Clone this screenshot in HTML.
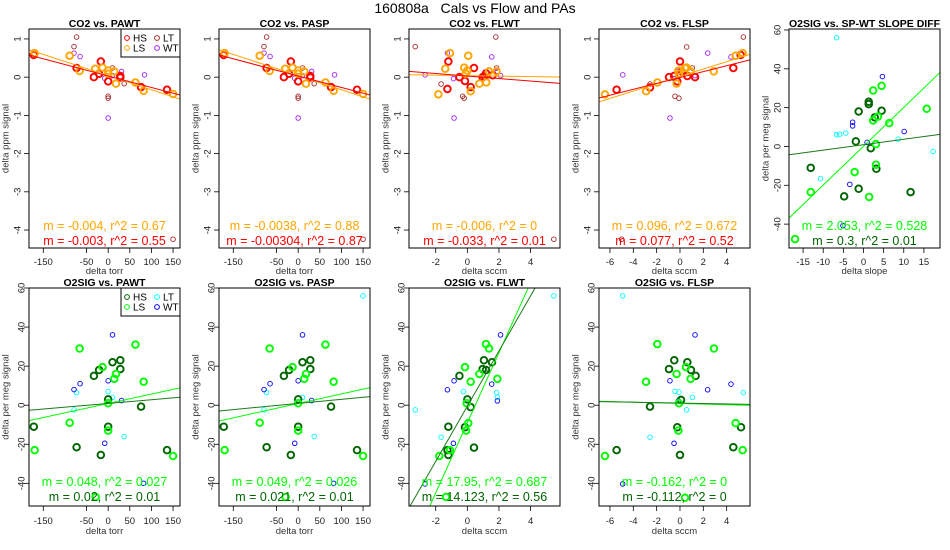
<!DOCTYPE html>
<html><head><meta charset="utf-8"><style>
html,body{margin:0;padding:0;background:#fff;}
svg{display:block;font-family:"Liberation Sans",Arial,sans-serif;}
</style></head><body>
<svg id="chart" width="950" height="550" viewBox="0 0 950 550">
<text x="475" y="13" text-anchor="middle" font-size="14" style="white-space:pre" xml:space="preserve">160808a   Cals vs Flow and PAs</text>
</svg>
<script>
// ---------- data ----------
// Panel 1: CO2 vs PAWT
const c1HSx=[-172,-73,-17,-33,-21,0,28,28,76,136];
const c1HSy=[0.58,0.24,0.41,0,0.09,-0.11,0.03,-0.01,-0.26,-0.33];
const c1LSx=[-170,-89,-66,-30,-13,0,0,14,18,63,82,150];
const c1LSy=[0.63,0.56,0.16,0.22,0.25,0.17,0.09,0.15,-0.17,-0.14,-0.36,-0.44];
const c1LTx=[-73,-79,10,37,0,0,150];
const c1LTy=[1.05,0.8,0.24,-0.17,-0.5,-0.55,-4.24];
const c1WTx=[-79,-65,-8,10,31,84,0];
const c1WTy=[0.63,0.54,-0.03,0.04,0.15,0.06,-1.07];
// Panel 2: CO2 vs PASP
const c2HSx=[-172,-73,-17,-33,-21,0,28,28,76,136];
const c2HSy=[0.58,0.24,0.41,0,0.09,-0.11,0.03,-0.01,-0.26,-0.33];
const c2LSx=[-170,-89,-66,-30,-13,0,0,14,18,63,82,150];
const c2LSy=[0.63,0.56,0.16,0.22,0.25,0.17,0.09,0.15,-0.17,-0.14,-0.36,-0.44];
const c2LTx=[-73,-79,10,37,0,0,150];
const c2LTy=[1.05,0.8,0.24,-0.17,-0.5,-0.55,-4.24];
const c2WTx=[-79,-65,-8,10,31,84,0];
const c2WTy=[0.63,0.54,-0.03,0.04,0.15,0.06,-1.07];
// Panel 3: CO2 vs FLWT
const c3HSx=[-1.2,-1.26,-0.5,-0.15,0.42,0.21,0.97,1.18,1.6,1.1];
const c3HSy=[0.41,-0.31,0,-0.1,0.24,-0.26,0,0.1,0.05,0.02];
const c3LSx=[-1.4,-1.1,-1.83,-0.2,0,-0.1,0.06,0.21,0.76,1.2,1.37,1.85];
const c3LSy=[0.22,0.63,-0.45,0.25,0.17,0.09,0.56,-0.37,-0.17,-0.14,0.15,0.15];
const c3LTx=[-3.3,1.8,-1.66,1.85,-0.3,-0.2,5.47];
const c3LTy=[0.8,1.05,-0.18,0.24,-0.5,-0.55,-4.24];
const c3WTx=[-2.67,-1.26,-0.88,1.54,1.9,2.1,-0.84];
const c3WTy=[0.06,0.63,-0.04,0.53,0.15,0.04,-1.07];
// Panel 4: CO2 vs FLSP
const c4HSx=[-5.43,-2.57,-0.94,-0.5,-0.23,0,0.14,0.63,1.29,4.57,5.2];
const c4HSy=[-0.33,-0.27,0,0.03,-0.11,0.41,0.15,0.03,0,0.24,0.58];
const c4LSx=[-6.43,-2.9,-1.94,-0.29,-0.14,-0.09,0.43,0.57,0.91,2.9,4.77,5.37];
const c4LSy=[-0.45,-0.37,-0.14,-0.17,0.17,0.09,0.24,0.25,0.15,0.15,0.56,0.63];
const c4LTx=[0.57,5.43,-2.57,1.06,-0.43,-0.09,-5];
const c4LTy=[0.79,1.05,-0.18,0.24,-0.5,-0.55,-4.24];
const c4WTx=[-4.9,2.37,4.37,-0.5,-0.23,1.29,-0.86];
const c4WTy=[0.06,0.63,0.53,-0.04,0.15,0.04,-1.07];
// Panel 5: O2SIG vs slope diff
const c5HSx=[-13.1,-1.9,-1.2,1.3,1.3,2.8,4.5,1.8,3.2,-1.2,-4.8,11.7];
const c5HSy=[-11,2.6,18,21.8,23,15,18.4,-0.9,-11.5,-21.8,-25.7,-23.5];
const c5LSx=[-17,-13.1,-2.2,2.4,2.4,3.6,4.5,6.4,3.1,3.1,1.4,15.7];
const c5LSy=[-47.7,-23.5,-13.2,28.8,13.4,15.4,31.2,12,1.2,-9.4,-26,19.4];
const c5LTx=[-6.7,-6.7,-10.7,8.6,17.3,-5.9,-4.4];
const c5LTy=[56,6,-16.6,3.8,-2.6,6.3,6.9];
const c5WTx=[4.7,-2.7,-2.7,0.9,10.1,-3.4,-5.1];
const c5WTy=[36,12.5,10.6,2.1,7.7,-19.5,-40.8];
// Panel 6: O2SIG vs PAWT
const o1HSx=[-172,-73,-33,-21,-17,10,28,28,0,0,76,136];
const o1HSy=[-11,-21.5,15,18,-25.5,22,23,18.5,3,-11,-0.7,-23];
const o1LSx=[-170,-89,-66,-13,0,0,14,18,63,82,150,-29];
const o1LSy=[-23,-9,29,19.5,-13,1,13.5,16,31,12,-26,-47];
const o1LTx=[-79,-73,10,37,82,0];
const o1LTy=[-2.4,6.5,4,-16,-40,7];
const o1WTx=[-79,-65,-8,10,0,31,82];
const o1WTy=[8,11,-19.5,36,12.5,2.4,-40];
// Panel 7: O2SIG vs PASP
const o2HSx=[-172,-73,-33,-21,-17,10,28,28,0,0,76,136];
const o2HSy=[-11,-21.5,15,18,-25.5,22,23,18.5,3,-11,-0.7,-23];
const o2LSx=[-170,-89,-66,-13,0,0,14,18,63,82,150,-29];
const o2LSy=[-23,-9,29,19.5,-13,1,13.5,16,31,12,-26,-47];
const o2LTx=[-79,-73,10,37,82,150];
const o2LTy=[-2.4,6.5,4,-16,-40,56];
const o2WTx=[-79,-65,-8,10,0,31,82];
const o2WTy=[8,11,-19.5,36,12.5,2.4,-40];
// Panel 8: O2SIG vs FLWT
const o3HSx=[-1.2,-1.26,-1.2,-0.5,-0.15,0,0.21,0.42,0.97,1.05,1.18,1.56];
const o3HSy=[-11,-23,-25.5,15,-11.3,3,-1,-21.7,18.5,23,18,22];
const o3LSx=[-1.77,-1.1,-1.35,-0.15,-0.08,0.06,-0.04,0.21,0.76,1.18,1.37,1.9];
const o3LSy=[-26,-23,-47,19.5,-13,-9.2,1,12,16,31.3,29,13.5];
const o3LTx=[-3.3,-1.66,1.85,1.9,5.47,-0.25];
const o3LTy=[-2.4,-16.4,6.5,4,56,7];
const o3WTx=[-2.67,-1.26,-0.84,-0.88,1.54,1.9,2.1];
const o3WTy=[-40.3,7.9,12.5,-19.5,10.8,2.2,36];
// Panel 9: O2SIG vs FLSP
const o4HSx=[-5.43,-2.57,-0.94,-0.49,-0.23,0,0.09,0.63,0.94,1.34,4.57,5.23];
const o4HSy=[-23,-0.7,18.5,23,-11.3,-25.5,2.7,22,18,15,-21.5,-11.3];
const o4LSx=[-6.43,-2.91,-1.94,-0.29,-0.14,-0.09,0.51,0.91,0.43,2.91,4.77,5.37];
const o4LSy=[-26,12,31.3,16,-13,1,19.5,13.5,-47.4,29,-9.2,-23];
const o4LTx=[-4.91,-2.57,0.57,1.06,5.43,-0.43,-0.09];
const o4LTy=[56,-16.4,-2.4,4,6.5,7,6.7];
const o4WTx=[-4.91,-0.86,-0.51,-0.14,1.29,2.37,4.37];
const o4WTy=[-40.3,12.5,-19.5,2.2,36,7.9,10.8];
// fit lines: [slope, intercept]
const fitSlopes=[[-0.0037,0.04],[-0.003,0.03],[-0.0037,0.04],[-0.003,0.03],[-0.006,0.04],[-0.033,0.03],[0.096,0.02],[0.077,-0.01],[2.0,0.1],[0.28,0.9],[0.048,0.9],[0.019,0.9],[0.049,0.9],[0.021,0.9],[17.95,-9.0],[14.12,-0.5],[-0.16,0.9],[-0.11,1.1]];
// tick labels
const torrTicks=[-150,-50,0,50,100,150];
const flwtTicks=[-2,0,2,4];
const flspTicks=[-6,-4,-2,0,2,4];
const slopeTicks=[-15,-10,-5,0,5,10,15];
const co2Ticks=[-4,-3,-2,-1,0,1];
const o2Ticks=[-40,-20,0,20,40,60];

const svg=document.getElementById('chart');
const NS='http://www.w3.org/2000/svg';
function mk(tag,attrs,parent){const e=document.createElementNS(NS,tag);for(const k in attrs)e.setAttribute(k,attrs[k]);(parent||svg).appendChild(e);return e;}

const topC={HS:'#ff0000',LS:'#ffa500',LT:'#a52a2a',WT:'#a020f0'};
const botC={HS:'#006400',LS:'#00ff00',LT:'#00ffff',WT:'#0000ff'};

function panel(o){
  const X0=o.col*190+29,X1=o.col*190+180;
  const Y0=o.row?288:29,Y1=o.row?506:248;
  const sx=v=>X0+(v-o.xlim[0])/(o.xlim[1]-o.xlim[0])*(X1-X0);
  const sy=v=>Y1-(v-o.ylim[0])/(o.ylim[1]-o.ylim[0])*(Y1-Y0);
  const isG=o.row||o.green;
  const g=mk('g',{});
  
  
  const cid='clip'+o.col+'_'+o.row;
  const cp=mk('clipPath',{id:cid},g);mk('rect',{x:X0,y:Y0,width:X1-X0,height:Y1-Y0},cp);
  const t=mk('text',{x:(X0+X1)/2,y:Y0-2,'text-anchor':'middle','font-size':10.5,'font-weight':'bold'},g);
  t.textContent=o.title;
  
  
  mk('line',{x1:sx(o.xt[0]),x2:sx(o.xt[o.xt.length-1]),y1:Y1,y2:Y1,stroke:'#000','stroke-width':0.8},g);
  o.xt.forEach(v=>{
    mk('line',{x1:sx(v),x2:sx(v),y1:Y1,y2:Y1+5,stroke:'#000','stroke-width':0.8},g);
    const l=mk('text',{x:sx(v),y:o.row?524:265,'text-anchor':'middle','font-size':9.5,fill:'#222'},g);l.textContent=v;
    
    
  });
  o.yt.forEach(v=>{
    mk('line',{x1:X0-5,x2:X0,y1:sy(v),y2:sy(v),stroke:'#000','stroke-width':0.8},g);
    const lx=o.col*190+(o.row?22:18);
    const l=mk('text',{x:lx,y:sy(v),'text-anchor':'middle','dominant-baseline':'central','font-size':9.5,fill:'#222',transform:`rotate(-90 ${lx} ${sy(v)})`},g);l.textContent=v;
    
    
  });
  const xl=mk('text',{x:(X0+X1)/2,y:o.row?534:274,'text-anchor':'middle','font-size':9.5,fill:'#333'},g);xl.textContent=o.xlabel;
  
  
  const yx=o.col*190+6,yy=(Y0+Y1)/2;
  const yl=mk('text',{x:yx,y:yy,'text-anchor':'middle','dominant-baseline':'central','font-size':9.5,fill:'#333',transform:`rotate(-90 ${yx} ${yy})`},g);yl.textContent=o.ylabel;
  
  
  const cols=isG?botC:topC;
  const pg=mk('g',{'clip-path':`url(#${cid})`},g);
  [['LT',o.lt],['WT',o.wt],['HS',o.hs],['LS',o.ls]].forEach(([k,d])=>{
    const thick=(k==='HS'||k==='LS');
    d[0].forEach((xv,i)=>{
      const c=mk('circle',{cx:sx(xv),cy:sy(d[1][i]),r:thick?3.3:2.3,fill:'none',stroke:cols[k],'stroke-width':thick?1.9:0.9},pg);
      
      
    });
  });
  [[o.fit[0],cols.LS],[o.fit[1],isG?'#1a7a1a':cols.HS]].forEach(([f,c])=>{
    const a=o.xlim[0],b=o.xlim[1];
    const ln=mk('line',{x1:sx(a),y1:sy(f[1]+f[0]*a),x2:sx(b),y2:sy(f[1]+f[0]*b),stroke:c,'stroke-width':1},pg);
    
    
  });
  const ty=o.row?[482,497]:[226,241];
  [[o.txt[0],cols.LS],[o.txt[1],isG?'#006400':cols.HS]].forEach(([s,c],i)=>{
    const tt=mk('text',{x:(X0+X1)/2,y:ty[i]+4,'text-anchor':'middle','font-size':12.5,fill:c},g);tt.textContent=s;
    
    
  });
  mk('rect',{x:X0,y:Y0,width:X1-X0,height:Y1-Y0,fill:'none',stroke:'#000','stroke-width':1},g);
  if(o.legend){
    const lg=mk('g',{},g);
    
    
    mk('rect',{x:X1-59,y:Y0,width:59,height:28,fill:'#fff',stroke:'#000','stroke-width':1},lg);
    [['HS',0,0],['LT',1,0],['LS',0,1],['WT',1,1]].forEach(([k,cx,ry])=>{
      const px=X1-53+cx*30,py=Y0+9+ry*10;
      mk('circle',{cx:px,cy:py,r:2.4,fill:'none',stroke:cols[k],'stroke-width':1},lg);
      const lt=mk('text',{x:px+6,y:py+3.5,'font-size':10},lg);lt.textContent=k;
      
      
    });
  }
}
const torr=[-183,166],flwt=[-3.69,5.86],flsp=[-6.94,6.0],co2=[-4.47,1.26],o2=[-51.6,60];
panel({name:'panel-co2-pawt',col:0,row:0,title:'CO2 vs. PAWT',xlim:torr,ylim:co2,xt:torrTicks,yt:co2Ticks,xlabel:'delta torr',ylabel:'delta ppm signal',hs:[c1HSx,c1HSy],ls:[c1LSx,c1LSy],lt:[c1LTx,c1LTy],wt:[c1WTx,c1WTy],fit:[fitSlopes[0],fitSlopes[1]],txt:['m = -0.004, r^2 = 0.67','m = -0.003, r^2 = 0.55'],legend:true});
panel({name:'panel-co2-pasp',col:1,row:0,title:'CO2 vs. PASP',xlim:torr,ylim:co2,xt:torrTicks,yt:co2Ticks,xlabel:'delta torr',ylabel:'delta ppm signal',hs:[c2HSx,c2HSy],ls:[c2LSx,c2LSy],lt:[c2LTx,c2LTy],wt:[c2WTx,c2WTy],fit:[fitSlopes[2],fitSlopes[3]],txt:['m = -0.0038, r^2 = 0.88','m = -0.00304, r^2 = 0.87']});
panel({name:'panel-co2-flwt',col:2,row:0,title:'CO2 vs. FLWT',xlim:flwt,ylim:co2,xt:flwtTicks,yt:co2Ticks,xlabel:'delta sccm',ylabel:'delta ppm signal',hs:[c3HSx,c3HSy],ls:[c3LSx,c3LSy],lt:[c3LTx,c3LTy],wt:[c3WTx,c3WTy],fit:[fitSlopes[4],fitSlopes[5]],txt:['m = -0.006, r^2 = 0','m = -0.033, r^2 = 0.01']});
panel({name:'panel-co2-flsp',col:3,row:0,title:'CO2 vs. FLSP',xlim:flsp,ylim:co2,xt:flspTicks,yt:co2Ticks,xlabel:'delta sccm',ylabel:'delta ppm signal',hs:[c4HSx,c4HSy],ls:[c4LSx,c4LSy],lt:[c4LTx,c4LTy],wt:[c4WTx,c4WTy],fit:[fitSlopes[6],fitSlopes[7]],txt:['m = 0.096, r^2 = 0.672','m = 0.077, r^2 = 0.52']});
panel({name:'panel-o2-slope',col:4,row:0,title:'O2SIG vs. SP-WT SLOPE DIFF',xlim:[-18.5,19],ylim:[-52.3,60.5],xt:slopeTicks,yt:o2Ticks,xlabel:'delta slope',ylabel:'delta per meg signal',hs:[c5HSx,c5HSy],ls:[c5LSx,c5LSy],lt:[c5LTx,c5LTy],wt:[c5WTx,c5WTy],fit:[fitSlopes[8],fitSlopes[9]],txt:['m = 2.053, r^2 = 0.528','m = 0.3, r^2 = 0.01'],green:true});
panel({name:'panel-o2-pawt',col:0,row:1,title:'O2SIG vs. PAWT',xlim:torr,ylim:o2,xt:torrTicks,yt:o2Ticks,xlabel:'delta torr',ylabel:'delta per meg signal',hs:[o1HSx,o1HSy],ls:[o1LSx,o1LSy],lt:[o1LTx,o1LTy],wt:[o1WTx,o1WTy],fit:[fitSlopes[10],fitSlopes[11]],txt:['m = 0.048, r^2 = 0.027','m = 0.02, r^2 = 0.01'],legend:true});
panel({name:'panel-o2-pasp',col:1,row:1,title:'O2SIG vs. PASP',xlim:torr,ylim:o2,xt:torrTicks,yt:o2Ticks,xlabel:'delta torr',ylabel:'delta per meg signal',hs:[o2HSx,o2HSy],ls:[o2LSx,o2LSy],lt:[o2LTx,o2LTy],wt:[o2WTx,o2WTy],fit:[fitSlopes[12],fitSlopes[13]],txt:['m = 0.049, r^2 = 0.026','m = 0.021, r^2 = 0.01']});
panel({name:'panel-o2-flwt',col:2,row:1,title:'O2SIG vs. FLWT',xlim:flwt,ylim:o2,xt:flwtTicks,yt:o2Ticks,xlabel:'delta sccm',ylabel:'delta per meg signal',hs:[o3HSx,o3HSy],ls:[o3LSx,o3LSy],lt:[o3LTx,o3LTy],wt:[o3WTx,o3WTy],fit:[fitSlopes[14],fitSlopes[15]],txt:['m = 17.95, r^2 = 0.687','m = 14.123, r^2 = 0.56']});
panel({name:'panel-o2-flsp',col:3,row:1,title:'O2SIG vs. FLSP',xlim:flsp,ylim:o2,xt:flspTicks,yt:o2Ticks,xlabel:'delta sccm',ylabel:'delta per meg signal',hs:[o4HSx,o4HSy],ls:[o4LSx,o4LSy],lt:[o4LTx,o4LTy],wt:[o4WTx,o4WTy],fit:[fitSlopes[16],fitSlopes[17]],txt:['m = -0.162, r^2 = 0','m = -0.112, r^2 = 0']});
</script>
</body></html>
